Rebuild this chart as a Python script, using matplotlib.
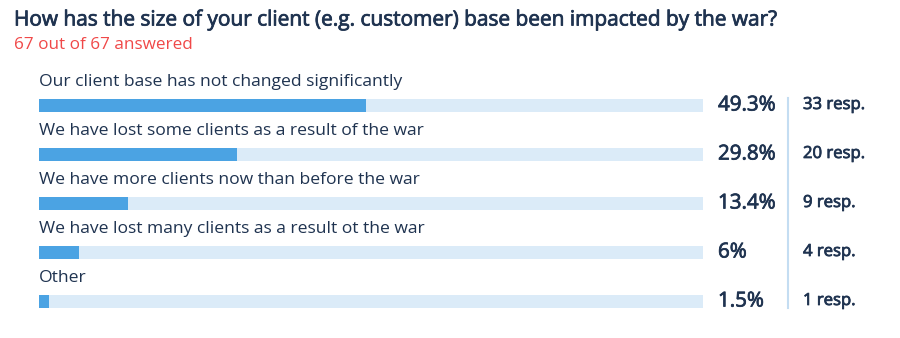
import matplotlib
matplotlib.use("Agg")
import matplotlib.pyplot as plt
import matplotlib.patheffects as pe

# survey answers, shares (%) and response counts
answers = [
    "Our client base has not changed significantly",
    "We have lost some clients as a result of the war",
    "We have more clients now than before the war",
    "We have lost many clients as a result ot the war",
    "Other",
]
shares = [49.3, 29.8, 13.4, 6, 1.5]
counts = [33, 20, 9, 4, 1]
answered = 67
total = 67

title = "How has the size of your client (e.g. customer) base been impacted by the war?"

W, H = 900, 338
NAVY = "#1f3350"
BLUE = "#4ba3e3"
TRACK = "#dbebf8"
RED = "#f04848"
FONT = ["Open Sans", "DejaVu Sans"]
# slightly heavier than regular, lighter than bold
medium = [pe.withStroke(linewidth=0.55, foreground=NAVY)]

fig = plt.figure(figsize=(W / 100, H / 100), dpi=100)
fig.patch.set_facecolor("white")

# bar area: pixel layout, x in percent
left, right = 39, 703
ax = fig.add_axes([left / W, 0, (right - left) / W, 1])
ax.set_xlim(0, 100)
ax.set_ylim(H, 0)
ax.axis("off")

row0, step, bar_h = 105, 49, 13
ys = [row0 + i * step for i in range(len(answers))]

ax.barh(ys, [100] * len(ys), height=bar_h, left=0, color=TRACK, linewidth=0)
ax.barh(ys, shares, height=bar_h, left=0, color=BLUE, linewidth=0)


def px(x, y):
    return x / W, 1 - y / H


fig.text(*px(14, 20), title, fontsize=15, color=NAVY, family=FONT,
         va="center", ha="left", path_effects=medium)
fig.text(*px(14, 45), f"{answered} out of {total} answered", fontsize=12.3,
         color=RED, family=FONT, va="center", ha="left")

for y, a, s, c in zip(ys, answers, shares, counts):
    fig.text(*px(39, y - 23), a, fontsize=12.6, color=NAVY, family=FONT,
             va="center", ha="left")
    fig.text(*px(718, y), f"{s:g}%", fontsize=14.8, color=NAVY, family=FONT,
             va="center", ha="left", path_effects=medium)
    fig.text(*px(803, y), f"{c} resp.", fontsize=12, color=NAVY, family=FONT,
             va="center", ha="left", path_effects=medium)

# divider between percentages and counts
fig.add_artist(plt.Line2D([788 / W, 788 / W], [1 - 98 / H, 1 - 308 / H],
                          color="#c4ddf2", linewidth=1.5))

fig.savefig("out.png", dpi=100, facecolor="white")
